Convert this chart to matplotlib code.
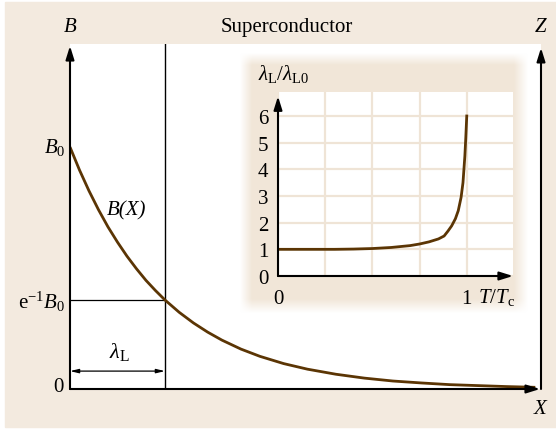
import matplotlib
matplotlib.use("Agg")
import matplotlib.pyplot as plt
import numpy as np

plt.rcParams["font.family"] = ["Liberation Serif", "DejaVu Serif"]
plt.rcParams["mathtext.fontset"] = "custom"
plt.rcParams["mathtext.rm"] = "Liberation Serif"
plt.rcParams["mathtext.it"] = "Liberation Serif:italic"

BEIGE = "#f3eadf"
GRID = "#efe4d6"
BROWN = "#5b3504"

# field decay inside the superconductor, X in units of lambda_L, B in units of B0
x_depth = [0.0, 0.1, 0.2, 0.3, 0.4, 0.5, 0.6, 0.7, 0.8, 0.9, 1.0, 1.15, 1.3, 1.45,
           1.6, 1.8, 2.0, 2.25, 2.5, 2.8, 3.1, 3.4, 3.7, 4.0, 4.3, 4.6, 4.9]
b_field = [1.0, 0.905, 0.819, 0.741, 0.670, 0.607, 0.549, 0.497, 0.449, 0.407,
           0.368, 0.317, 0.273, 0.235, 0.202, 0.165, 0.135, 0.105, 0.082, 0.061,
           0.045, 0.033, 0.025, 0.018, 0.014, 0.010, 0.007]

# penetration depth vs reduced temperature
t_red = [0.0, 0.1, 0.2, 0.3, 0.4, 0.5, 0.6, 0.7, 0.75, 0.8, 0.85, 0.88, 0.9,
         0.92, 0.94, 0.955, 0.97, 0.98, 0.99, 0.995, 1.0]
lam_ratio = [1.0, 1.0, 1.0, 1.0, 1.01, 1.03, 1.07, 1.14, 1.2, 1.28, 1.39, 1.5,
             1.68, 1.88, 2.15, 2.45, 2.95, 3.5, 4.5, 5.2, 6.0]
lam_yticks = [0, 1, 2, 3, 4, 5, 6]

W, H = 556, 431


def fx(px):
    return px / W


def fy(py):
    return 1 - py / H


def rect(x0, y0, x1, y1):
    return [fx(x0), fy(y1), fx(x1) - fx(x0), fy(y0) - fy(y1)]


fig = plt.figure(figsize=(W / 100, H / 100), dpi=100, facecolor="white")
fig.patches.append(plt.Rectangle((fx(5), fy(428)), fx(556) - fx(5), fy(3) - fy(428),
                                 transform=fig.transFigure, color=BEIGE, zorder=0))

# ---- main panel ----
ax = fig.add_axes(rect(70, 45, 541, 390), zorder=1)
ax.set_facecolor("white")
for s in ax.spines.values():
    s.set_visible(False)
ax.set_xticks([])
ax.set_yticks([])
ax.set_xlim(0, 4.96)
ax.set_ylim(0, 1.426)

ax.plot(x_depth, b_field, color=BROWN, lw=2, solid_capstyle="butt", zorder=3)
ax.plot([1, 1], [0, 1.426], color="black", lw=1)
ax.plot([0, 1], [np.exp(-1), np.exp(-1)], color="black", lw=0.9)

arrow = dict(arrowstyle="-|>,head_length=0.8,head_width=0.25", color="black",
             lw=1.5, shrinkA=0, shrinkB=0)
ax.annotate("", xy=(0, 1.418), xytext=(0, 0), arrowprops=arrow, annotation_clip=False)
ax.annotate("", xy=(4.96, 1.41), xytext=(4.96, 0), arrowprops=arrow, annotation_clip=False)
ax.annotate("", xy=(4.95, 0), xytext=(0, 0), arrowprops=arrow, annotation_clip=False)
ax.annotate("", xy=(1, 0.074), xytext=(0, 0.074),
            arrowprops=dict(arrowstyle="<|-|>,head_length=0.5,head_width=0.12",
                            color="black", lw=0.9, shrinkA=0, shrinkB=0))

fs = 15
fig.text(fx(70), fy(28), "$B$", fontsize=fs, ha="center", va="center")
fig.text(fx(541), fy(28), "$Z$", fontsize=fs, ha="center", va="center")
fig.text(fx(541), fy(410), "$X$", fontsize=fs, ha="center", va="center")
fig.text(fx(287), fy(28), "Superconductor", fontsize=fs, ha="center", va="center")
fig.text(fx(64), fy(388), "0", fontsize=fs, ha="right", va="center")
fig.text(fx(65), fy(148), "$B_0$", fontsize=fs, ha="right", va="center")
fig.text(fx(65), fy(302), r"$\mathrm{e}^{-1}B_0$", fontsize=fs, ha="right", va="center")
fig.text(fx(107), fy(211), "B(X)", fontsize=fs, style="italic", ha="left", va="center")
fig.text(fx(119), fy(352), r"$\mathit{\lambda}_\mathrm{L}$", fontsize=fs + 1,
         ha="center", va="center")

# ---- soft beige panel behind the inset ----
gx0, gy0, gx1, gy1 = 232, 48, 536, 322
glow = fig.add_axes(rect(gx0, gy0, gx1, gy1), zorder=2)
glow.axis("off")
xs = np.arange(gx0, gx1) + 0.5
ys = np.arange(gy0, gy1) + 0.5
ramp_x = np.clip((xs - 240) / 12, 0, 1) * np.clip((528 - xs) / 14, 0, 1)
ramp_y = np.clip((ys - 54) / 12, 0, 1) * np.clip((314 - ys) / 14, 0, 1)
alpha = np.outer(ramp_y, ramp_x)
rgba = np.zeros(alpha.shape + (4,))
rgba[..., :3] = matplotlib.colors.to_rgb("#f1e6d8")
rgba[..., 3] = alpha
glow.imshow(rgba, extent=(0, 1, 0, 1), aspect="auto", interpolation="bilinear")
glow.set_xlim(0, 1)
glow.set_ylim(0, 1)

# ---- inset ----
ins = fig.add_axes(rect(278, 93, 513, 277), zorder=3)
ins.set_facecolor("white")
for s in ins.spines.values():
    s.set_visible(False)
ins.set_xlim(0, 1.245)
ins.set_ylim(0, 6.9)
ins.set_xticks([0, 0.25, 0.5, 0.75, 1.0])
ins.set_xticklabels(["0", "", "", "", "1"])
ins.set_yticks(lam_yticks)
ins.set_yticklabels([str(v) for v in lam_yticks])
ins.tick_params(length=0, labelsize=fs)
ins.tick_params(axis="x", pad=9)
ins.tick_params(axis="y", pad=7)
ins.grid(True, color=GRID, lw=1.6)
ins.set_axisbelow(True)
ins.plot(t_red, lam_ratio, color=BROWN, lw=2, zorder=3)
ins.annotate("", xy=(0, 6.74), xytext=(0, 0), arrowprops=arrow, annotation_clip=False)
ins.annotate("", xy=(1.245, 0), xytext=(0, 0), arrowprops=arrow, annotation_clip=False)

fig.text(fx(258), fy(74), r"$\mathit{\lambda}_\mathrm{L}/\mathit{\lambda}_\mathrm{L0}$",
         fontsize=fs, ha="left", va="center", zorder=5)
fig.text(fx(478), fy(297), r"$T/T_\mathrm{c}$", fontsize=fs, ha="left", va="center",
         zorder=5)

fig.savefig("out.png", dpi=100, facecolor="white")
